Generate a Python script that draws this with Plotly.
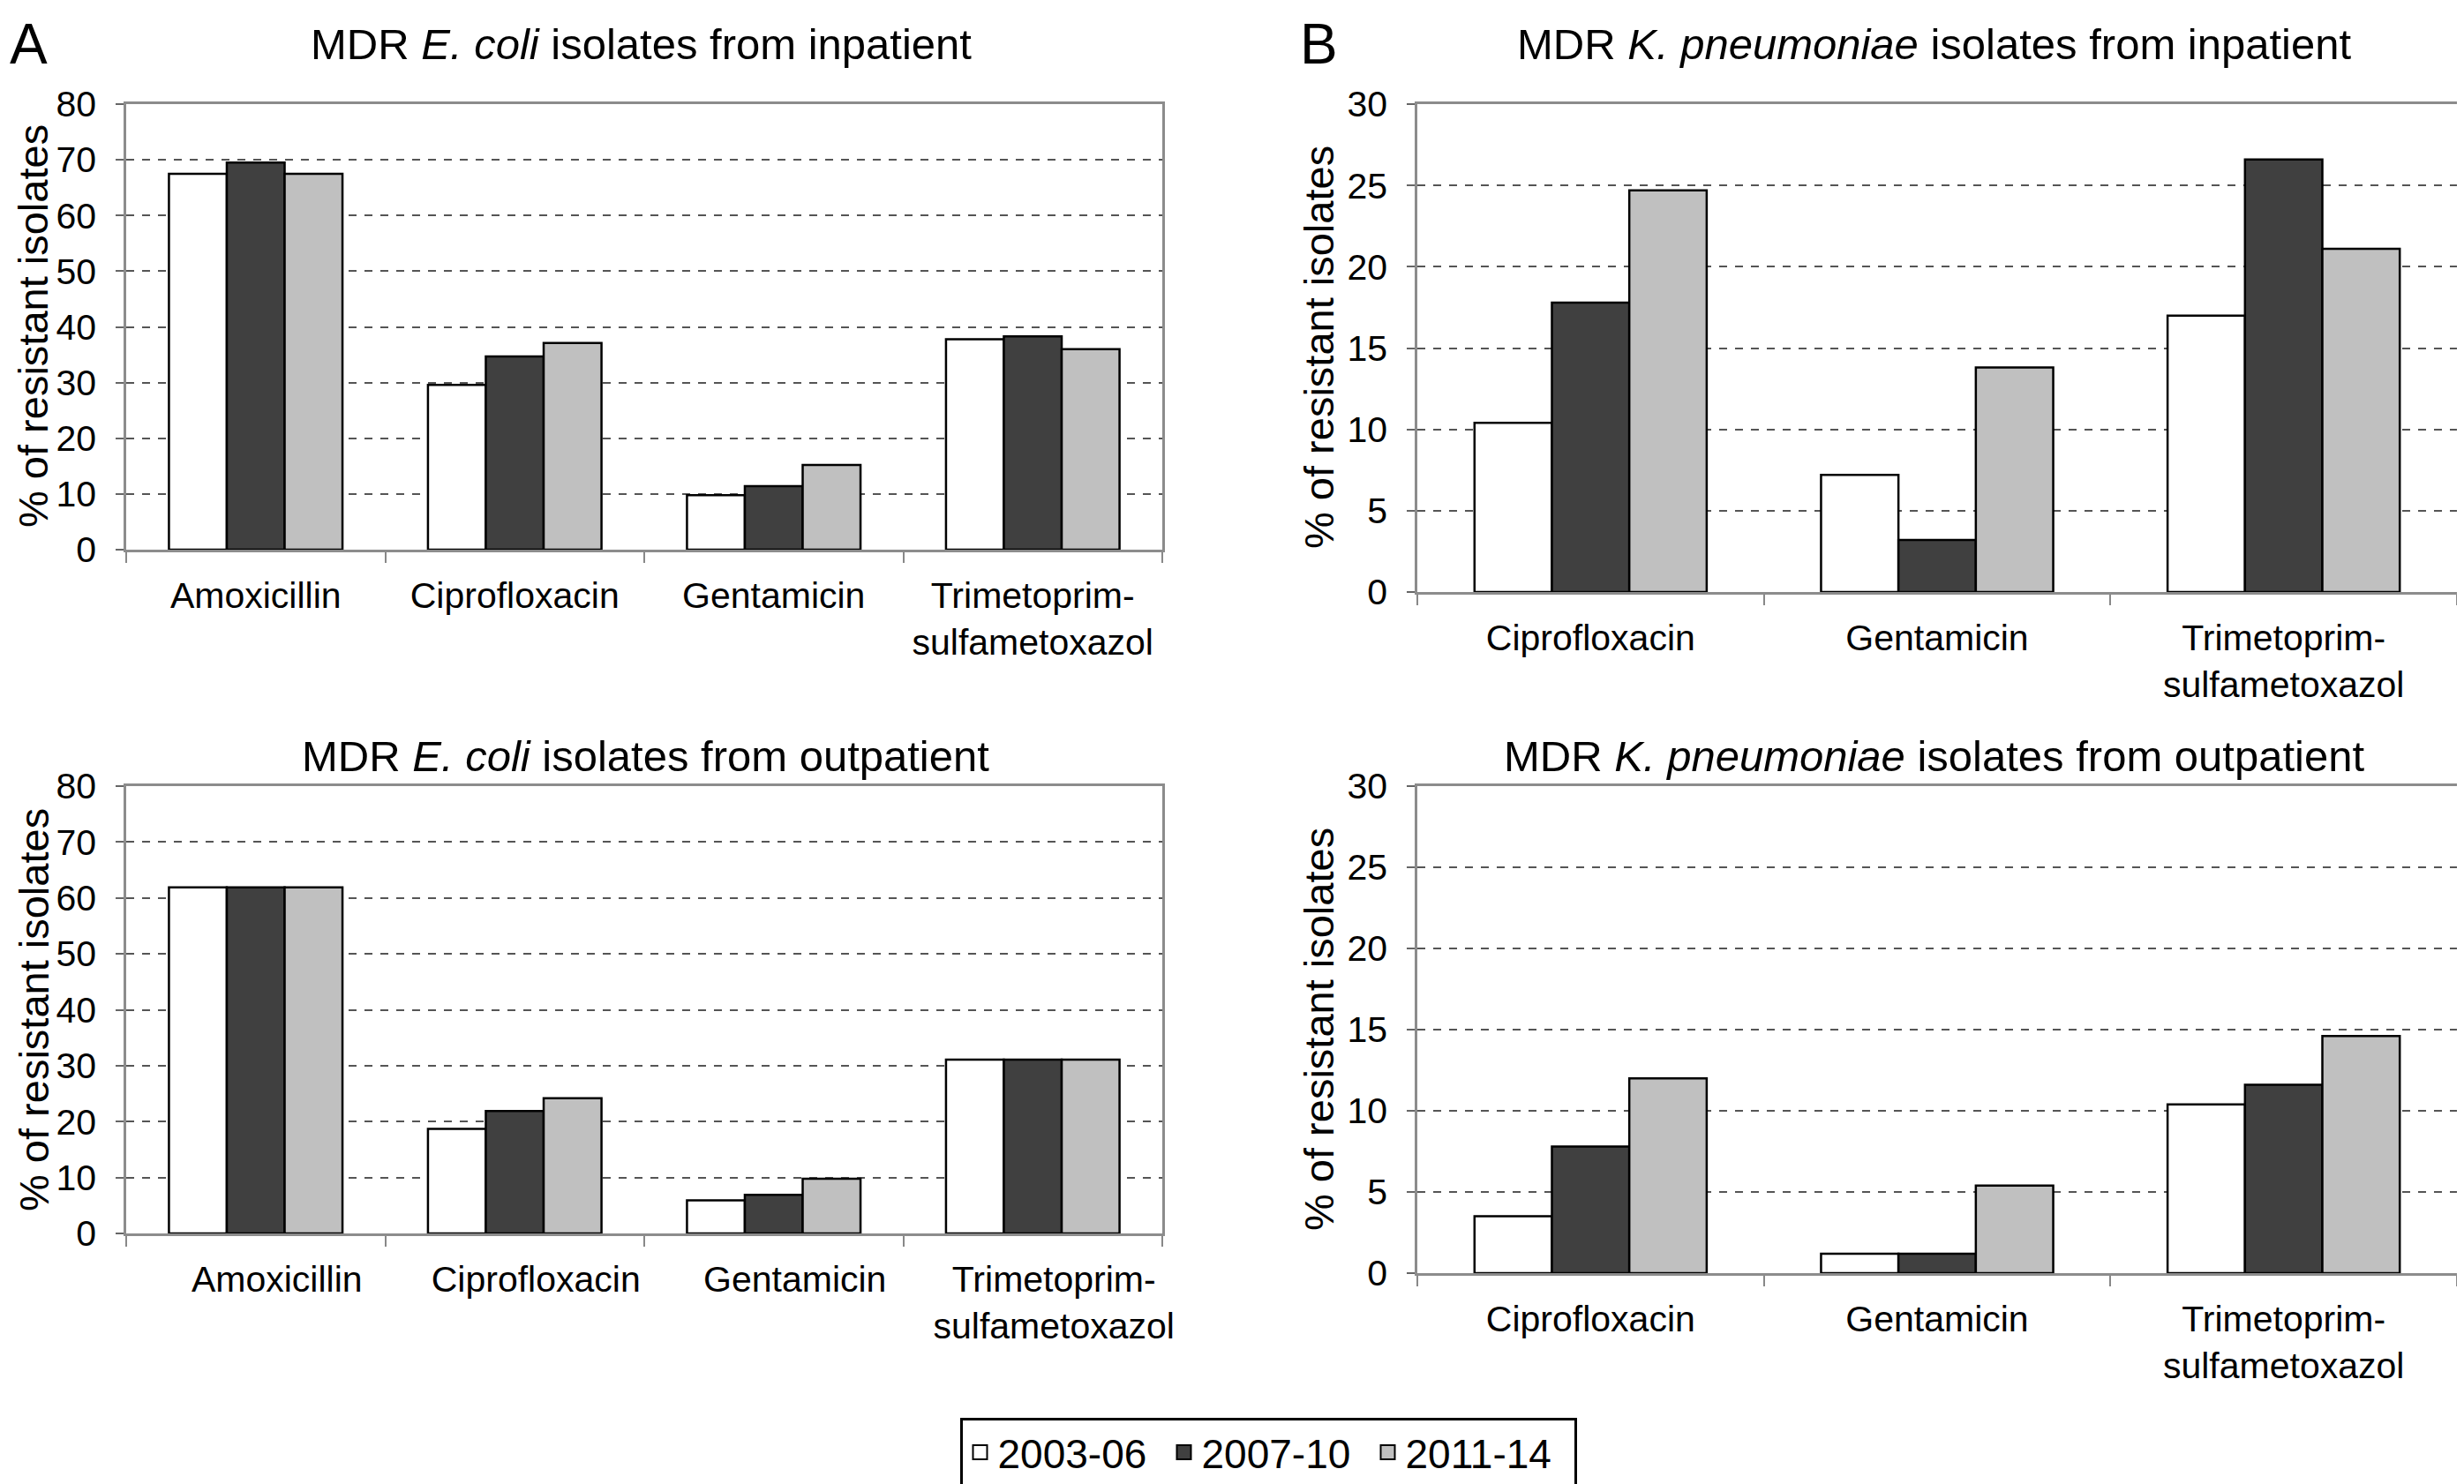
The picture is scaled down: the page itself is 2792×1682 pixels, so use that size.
import plotly.graph_objects as go
from plotly.subplots import make_subplots

# ---------------- data ----------------
periods = ["2003-06", "2007-10", "2011-14"]
period_colors = ["#ffffff", "#404040", "#c0c0c0"]

ecoli_drugs = ["Amoxicillin", "Ciprofloxacin", "Gentamicin", "Trimetoprim-sulfametoxazol"]
ecoli_ticks = ["Amoxicillin", "Ciprofloxacin", "Gentamicin", "Trimetoprim-<br>sulfametoxazol"]
kpn_drugs = ["Ciprofloxacin", "Gentamicin", "Trimetoprim-sulfametoxazol"]
kpn_ticks = ["Ciprofloxacin", "Gentamicin", "Trimetoprim-<br>sulfametoxazol"]

ecoli_in_2003 = [67.5, 29.6, 9.8, 37.8]
ecoli_in_2007 = [69.5, 34.7, 11.4, 38.3]
ecoli_in_2011 = [67.5, 37.1, 15.2, 36.0]

ecoli_out_2003 = [61.9, 18.7, 5.9, 31.1]
ecoli_out_2007 = [61.9, 21.9, 6.9, 31.1]
ecoli_out_2011 = [61.9, 24.2, 9.8, 31.1]

kpn_in_2003 = [10.4, 7.2, 17.0]
kpn_in_2007 = [17.8, 3.2, 26.6]
kpn_in_2011 = [24.7, 13.8, 21.1]

kpn_out_2003 = [3.5, 1.2, 10.4]
kpn_out_2007 = [7.8, 1.2, 11.6]
kpn_out_2011 = [12.0, 5.4, 14.6]

titles = [
    "MDR <i>E. coli</i> isolates from inpatient",
    "MDR <i>K. pneumoniae</i> isolates from inpatient",
    "MDR <i>E. coli</i> isolates from outpatient",
    "MDR <i>K. pneumoniae</i> isolates from outpatient",
]
y_title = "% of resistant isolates"
panel_labels = ["A", "B"]

# ---------------- figure ----------------
# page body has an 8px margin: the figure is drawn 8px in from the window corner
OFF = 8
W, H = 2792 - OFF, 1682 - OFF
FONT = "Liberation Sans, Arial, Helvetica, sans-serif"

fig = make_subplots(rows=2, cols=2)

panels = [
    (1, 1, ecoli_drugs, [ecoli_in_2003, ecoli_in_2007, ecoli_in_2011]),
    (1, 2, kpn_drugs, [kpn_in_2003, kpn_in_2007, kpn_in_2011]),
    (2, 1, ecoli_drugs, [ecoli_out_2003, ecoli_out_2007, ecoli_out_2011]),
    (2, 2, kpn_drugs, [kpn_out_2003, kpn_out_2007, kpn_out_2011]),
]

for pi, (r, c, cats, series) in enumerate(panels):
    for si, vals in enumerate(series):
        fig.add_trace(
            go.Bar(
                x=cats, y=vals, name=periods[si],
                marker=dict(color=period_colors[si], line=dict(color="#000000", width=2.5)),
                legendgroup=periods[si], showlegend=False,
            ),
            row=r, col=c,
        )

# legend entries (square swatches)
for si, p in enumerate(periods):
    fig.add_trace(
        go.Scatter(
            x=[None], y=[None], mode="markers", name=p, legendgroup=p,
            marker=dict(symbol="square", size=16, color=period_colors[si],
                        line=dict(color="#000000", width=2)),
            showlegend=True, hoverinfo="skip",
        ),
        row=1, col=1,
    )

def fx(px):
    return (px - OFF) / W

def fy(py):
    return 1 - (py - OFF) / H

# plot-area positions in window pixels (left, right, top, bottom)
boxes = {
    1: (143, 1317, 118, 623),
    2: (1606, 2784, 118, 671),
    3: (143, 1317, 891, 1398),
    4: (1606, 2784, 891, 1443),
}
yranges = {1: 80, 2: 30, 3: 80, 4: 30}
ydt = {1: 10, 2: 5, 3: 10, 4: 5}
tick_sets = {1: (ecoli_drugs, ecoli_ticks), 2: (kpn_drugs, kpn_ticks),
             3: (ecoli_drugs, ecoli_ticks), 4: (kpn_drugs, kpn_ticks)}
label_shift = {1: 0, 2: 0, 3: 24, 4: 0}

layout_updates = {}
for k, (l, rr, t, b) in boxes.items():
    sx = "" if k == 1 else str(k)
    layout_updates["xaxis" + sx] = dict(
        domain=[fx(l), fx(rr)], automargin=False,
        tickmode="array", tickvals=tick_sets[k][0], ticktext=tick_sets[k][1],
        tickson="boundaries", ticks="outside", ticklen=12, tickwidth=1.5, tickcolor="#888888",
        showgrid=False, showline=True, linecolor="#8c8c8c", linewidth=2.5, mirror=True,
        tickfont=dict(family=FONT, size=41, color="#000000"),
        ticklabelstandoff=14, ticklabelshift=label_shift[k],
    )
    layout_updates["yaxis" + sx] = dict(
        domain=[fy(b), fy(t)], automargin=False,
        range=[0, yranges[k]], dtick=ydt[k], tick0=0,
        ticks="outside", ticklen=9, tickwidth=1.5, tickcolor="#666666",
        showgrid=True, gridcolor="#555555", griddash="dash", gridwidth=1.5,
        zeroline=False,
        showline=True, linecolor="#8c8c8c", linewidth=2.5, mirror=True,
        tickfont=dict(family=FONT, size=41, color="#000000"),
        ticklabelstandoff=14,
    )
fig.update_layout(**layout_updates)

annotations = []
title_pos = [(727, 50), (2191, 50), (731, 857), (2191, 857)]
for (x, y), txt in zip(title_pos, titles):
    annotations.append(dict(text=txt, x=fx(x), y=fy(y), xref="paper", yref="paper",
                            xanchor="center", yanchor="middle", showarrow=False,
                            font=dict(family=FONT, size=49, color="#000000")))
ytitle_pos = [(38, 370), (1494, 394), (38, 1145), (1494, 1167)]
for (x, y) in ytitle_pos:
    annotations.append(dict(text=y_title, x=fx(x), y=fy(y), xref="paper", yref="paper",
                            xanchor="center", yanchor="middle", showarrow=False, textangle=-90,
                            font=dict(family=FONT, size=47, color="#000000")))
for lbl, (x, y) in zip(panel_labels, [(32, 50), (1494, 50)]):
    annotations.append(dict(text=lbl, x=fx(x), y=fy(y), xref="paper", yref="paper",
                            xanchor="center", yanchor="middle", showarrow=False,
                            font=dict(family=FONT, size=64, color="#000000")))

fig.update_layout(
    width=W, height=H,
    margin=dict(l=0, r=0, t=0, b=0, autoexpand=False),
    paper_bgcolor="#ffffff", plot_bgcolor="#ffffff",
    barmode="group", bargap=0.33, bargroupgap=0,
    font=dict(family=FONT, color="#000000"),
    annotations=annotations,
    legend=dict(
        orientation="h", x=fx(1437), y=fy(1646), xanchor="center", yanchor="middle",
        font=dict(family=FONT, size=46, color="#000000"),
        bordercolor="#000000", borderwidth=3, bgcolor="#ffffff",
        entrywidth=186, entrywidthmode="pixels",
        itemwidth=30, traceorder="normal",
    ),
)

fig.write_html("out.html")
